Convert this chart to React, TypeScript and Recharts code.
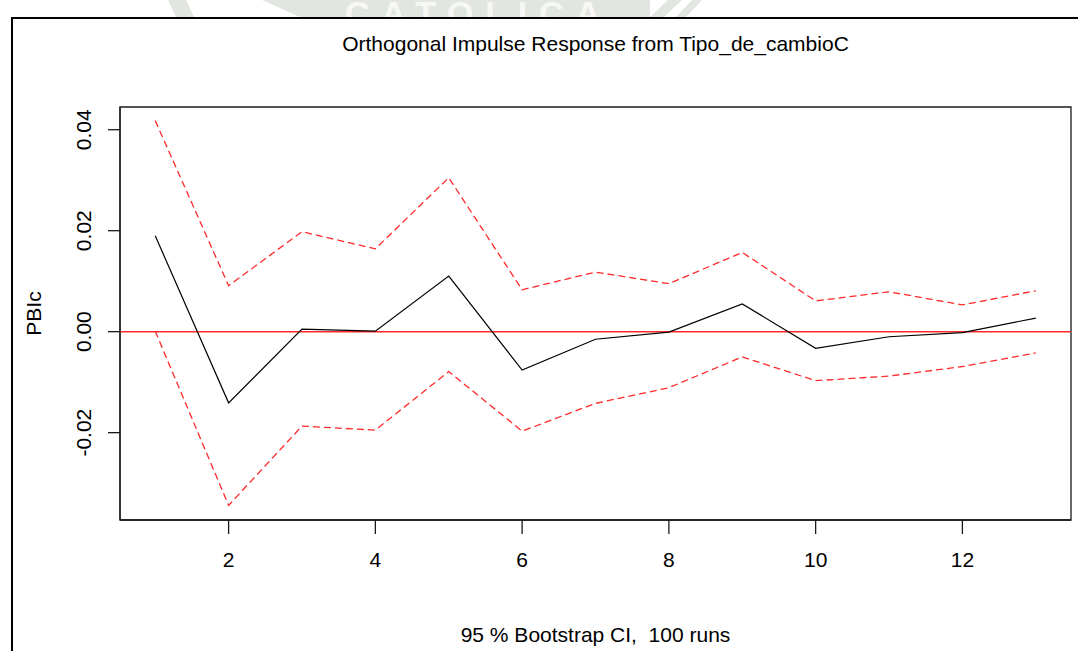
import React from 'react';
import {
  LineChart,
  Line,
  XAxis,
  YAxis,
  ReferenceLine,
  ReferenceArea,
} from 'recharts';

// horizonte del impulso-respuesta
const steps = [1, 2, 3, 4, 5, 6, 7, 8, 9, 10, 11, 12, 13];
// respuesta ortogonal de PBIc ante Tipo_de_cambioC
const irfPBIc = [0.019, -0.0141, 0.0005, 0.0001, 0.011, -0.0076, -0.0015, -0.0001, 0.0055, -0.0033, -0.001, -0.0002, 0.0027];
// bandas bootstrap 95 %
const upperCI = [0.0418, 0.0091, 0.0198, 0.0164, 0.0305, 0.0083, 0.0118, 0.0095, 0.0157, 0.0061, 0.0079, 0.0053, 0.0081];
const lowerCI = [0.0001, -0.0344, -0.0187, -0.0195, -0.0079, -0.0197, -0.0142, -0.0111, -0.005, -0.0097, -0.0088, -0.0069, -0.0042];

const xTicks = [2, 4, 6, 8, 10, 12];
const yTicks = [-0.02, 0, 0.02, 0.04];

const X_DOMAIN: [number, number] = [0.52, 13.48];
const Y_DOMAIN: [number, number] = [-0.0373, 0.0445];

const FONT = '"Liberation Sans", Arial, sans-serif';
const AXIS = '#1a1a1a';
const RED = '#ff2a2a';
const MARK = '#e2e6e0';

const data = steps.map((s, i) => ({
  step: s,
  irf: irfPBIc[i],
  upper: upperCI[i],
  lower: lowerCI[i],
}));

// etiquetas del eje Y giradas, estilo R
const YTick = ({ x, y, payload }: any) => (
  <text
    transform={`translate(${x - 17}, ${y}) rotate(-90)`}
    textAnchor="middle"
    fontSize={21}
    fontFamily={FONT}
    fill="#000"
  >
    {payload.value.toFixed(2)}
  </text>
);

const App = () => {
  return (
    <div style={{ position: 'absolute', left: 0, top: 0, width: 1078, height: 651, background: '#fff', overflow: 'hidden' }}>
      {/* marca de agua parcial sobre el marco */}
      <svg width={1078} height={17} style={{ position: 'absolute', left: 0, top: 0, overflow: 'hidden' }}>
        <polygon points="168,0 186,0 194,17 176,17" fill={MARK} />
        <polygon points="262,0 650,0 650,17 300,17" fill={MARK} />
        <polygon points="668,0 682,0 664,17 650,17" fill={MARK} />
        <polygon points="692,0 702,0 686,17 676,17" fill={MARK} />
        <text
          x={345}
          y={25}
          fontSize={34}
          fontWeight={700}
          fontFamily={FONT}
          fill="#f7f8f6"
          textLength={255}
          lengthAdjust="spacing"
        >
          CATOLICA
        </text>
      </svg>

      {/* marco exterior */}
      <div style={{ position: 'absolute', left: 11, top: 17, width: 1067, height: 2, background: '#000' }} />
      <div style={{ position: 'absolute', left: 11, top: 17, width: 2, height: 634, background: '#000' }} />

      <div style={{ position: 'absolute', left: 0, top: 0 }}>
        <LineChart
          width={1078}
          height={651}
          data={data}
          margin={{ top: 107, right: 7, bottom: 91, left: 60 }}
        >
          <XAxis
            type="number"
            dataKey="step"
            domain={X_DOMAIN}
            ticks={xTicks}
            allowDataOverflow
            height={40}
            axisLine={{ stroke: AXIS, strokeWidth: 1.3 }}
            tickLine={{ stroke: AXIS, strokeWidth: 1.3 }}
            tickSize={14}
            tickMargin={18}
            tick={{ fontSize: 21, fontFamily: FONT, fill: '#000' }}
          />
          <YAxis
            type="number"
            domain={Y_DOMAIN}
            ticks={yTicks}
            allowDataOverflow
            width={60}
            axisLine={{ stroke: AXIS, strokeWidth: 1.3 }}
            tickLine={{ stroke: AXIS, strokeWidth: 1.3 }}
            tickSize={12}
            tickMargin={0}
            tick={<YTick />}
          />
          <ReferenceArea
            x1={X_DOMAIN[0]}
            x2={X_DOMAIN[1]}
            y1={Y_DOMAIN[0]}
            y2={Y_DOMAIN[1]}
            fill="none"
            stroke={AXIS}
            strokeWidth={1.3}
            fillOpacity={0}
          />
          <ReferenceLine y={0} stroke={RED} strokeWidth={1.6} />
          <Line
            type="linear"
            dataKey="upper"
            stroke={RED}
            strokeWidth={1.3}
            strokeDasharray="7 4"
            dot={false}
            isAnimationActive={false}
          />
          <Line
            type="linear"
            dataKey="lower"
            stroke={RED}
            strokeWidth={1.3}
            strokeDasharray="7 4"
            dot={false}
            isAnimationActive={false}
          />
          <Line
            type="linear"
            dataKey="irf"
            stroke="#000"
            strokeWidth={1.2}
            dot={false}
            isAnimationActive={false}
          />
        </LineChart>
      </div>

      {/* textos del gráfico */}
      <svg width={1078} height={651} style={{ position: 'absolute', left: 0, top: 0, pointerEvents: 'none' }}>
        <text x={595.5} y={51} textAnchor="middle" fontSize={21} fontFamily={FONT} fill="#000">
          Orthogonal Impulse Response from Tipo_de_cambioC
        </text>
        <text
          transform="translate(41, 313.5) rotate(-90)"
          textAnchor="middle"
          fontSize={21}
          fontFamily={FONT}
          fill="#000"
        >
          PBIc
        </text>
        <text x={595.5} y={642} textAnchor="middle" fontSize={21} fontFamily={FONT} fill="#000" style={{ whiteSpace: 'pre' }}>
          {'95 % Bootstrap CI,  100 runs'}
        </text>
      </svg>
    </div>
  );
};

export default App;
